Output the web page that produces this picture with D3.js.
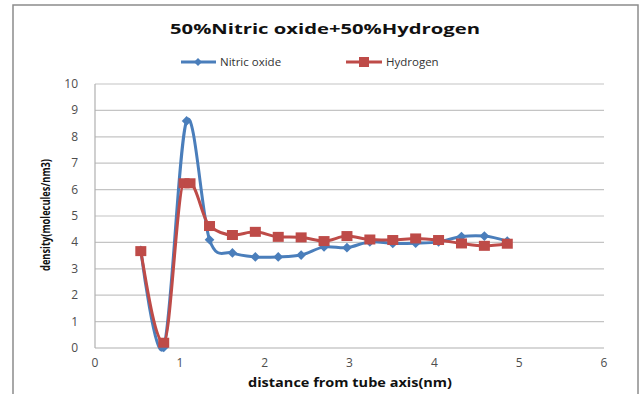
<!DOCTYPE html>
<html>
<head>
<meta charset="utf-8">
<script src="https://cdn.jsdelivr.net/npm/d3@7"></script>
<style>
  body { margin: 0; background: #fff; }
  #canvas svg { display: block; }
</style>
</head>
<body>
<div id="canvas"></div>
<script>
// values
var nitricX = [0.54, 0.81, 1.08, 1.35, 1.62, 1.89, 2.16, 2.43, 2.70, 2.97, 3.24, 3.51, 3.78, 4.05, 4.32, 4.59, 4.86];
var nitricY = [3.7, 0.02, 8.6, 4.1, 3.6, 3.45, 3.45, 3.52, 3.83, 3.8, 4.02, 3.96, 3.97, 4.02, 4.22, 4.24, 4.05];
var hydrogenX = [0.54, 0.81, 1.05, 1.12, 1.35, 1.62, 1.89, 2.16, 2.43, 2.70, 2.97, 3.24, 3.51, 3.78, 4.05, 4.32, 4.59, 4.86];
var hydrogenY = [3.67, 0.2, 6.24, 6.24, 4.62, 4.28, 4.4, 4.21, 4.19, 4.05, 4.24, 4.11, 4.09, 4.15, 4.09, 3.96, 3.87, 3.95];
var xTicks = [0, 1, 2, 3, 4, 5, 6];
var yTicks = [0, 1, 2, 3, 4, 5, 6, 7, 8, 9, 10];
var seriesNames = ['Nitric oxide', 'Hydrogen'];

var width = 643, height = 394;
var blue = '#4a7ebb', red = '#be4b48';

var svg = d3.select('#canvas').append('svg')
  .attr('width', width)
  .attr('height', height);

// outer chart frame
svg.append('rect')
  .attr('x', 13).attr('y', 5)
  .attr('width', 625).attr('height', 400)
  .attr('fill', '#fff')
  .attr('stroke', '#8c8c8c')
  .attr('stroke-width', 1.5);

var x = d3.scaleLinear().domain([0, 6]).range([95, 604]);
var y = d3.scaleLinear().domain([0, 10]).range([348, 84]);

// horizontal gridlines
svg.append('g').selectAll('line').data(yTicks.slice(1))
  .enter().append('line')
  .attr('x1', x(0)).attr('x2', x(6))
  .attr('y1', function (d) { return y(d); })
  .attr('y2', function (d) { return y(d); })
  .attr('stroke', '#c4c4c4')
  .attr('stroke-width', 1.2);

// axis lines
svg.append('line')
  .attr('x1', x(0)).attr('x2', x(0))
  .attr('y1', y(0)).attr('y2', y(10))
  .attr('stroke', '#b0b0b0').attr('stroke-width', 1.2);
svg.append('line')
  .attr('x1', x(0)).attr('x2', x(6))
  .attr('y1', y(0)).attr('y2', y(0))
  .attr('stroke', '#b0b0b0').attr('stroke-width', 1.2);

// tick labels
svg.append('g').selectAll('text').data(yTicks)
  .enter().append('text')
  .attr('x', 78)
  .attr('y', function (d) { return y(d) + 4; })
  .attr('text-anchor', 'end')
  .attr('font-family', 'Open Sans, sans-serif')
  .attr('font-size', 12)
  .attr('fill', '#4d4d4d')
  .text(function (d) { return d; });

svg.append('g').selectAll('text').data(xTicks)
  .enter().append('text')
  .attr('x', function (d) { return x(d); })
  .attr('y', 367)
  .attr('text-anchor', 'middle')
  .attr('font-family', 'Open Sans, sans-serif')
  .attr('font-size', 12)
  .attr('fill', '#4d4d4d')
  .text(function (d) { return d; });

// titles
svg.append('text')
  .attr('x', 325).attr('y', 34)
  .attr('text-anchor', 'middle')
  .attr('font-family', 'Open Sans, sans-serif')
  .attr('font-weight', 'bold')
  .attr('font-size', 15)
  .attr('fill', '#111')
  .attr('textLength', 310)
  .attr('lengthAdjust', 'spacingAndGlyphs')
  .text('50%Nitric oxide+50%Hydrogen');

svg.append('text')
  .attr('x', 350).attr('y', 387)
  .attr('text-anchor', 'middle')
  .attr('font-family', 'Open Sans, sans-serif')
  .attr('font-weight', 'bold')
  .attr('font-size', 11.5)
  .attr('fill', '#111')
  .attr('textLength', 204)
  .attr('lengthAdjust', 'spacingAndGlyphs')
  .text('distance from tube axis(nm)');

svg.append('text')
  .attr('transform', 'translate(50,215) rotate(-90)')
  .attr('text-anchor', 'middle')
  .attr('font-family', 'Open Sans, sans-serif')
  .attr('font-weight', 'bold')
  .attr('font-size', 13)
  .attr('fill', '#111')
  .attr('textLength', 112)
  .attr('lengthAdjust', 'spacingAndGlyphs')
  .text('density(molecules/nm3)');

// series lines (Excel style smoothed)
var nitricLine = d3.line()
  .x(function (d) { return x(d.x); })
  .y(function (d) { return y(d.y); })
  .curve(d3.curveCatmullRom.alpha(0));

var hydrogenLine = d3.line()
  .x(function (d) { return x(d.x); })
  .y(function (d) { return y(d.y); })
  .curve(d3.curveMonotoneX);

var nitric = nitricX.map(function (v, i) { return { x: v, y: nitricY[i] }; });
var hydrogen = hydrogenX.map(function (v, i) { return { x: v, y: hydrogenY[i] }; });

svg.append('path').datum(nitric)
  .attr('d', nitricLine)
  .attr('fill', 'none')
  .attr('stroke', blue)
  .attr('stroke-width', 3)
  .attr('stroke-linejoin', 'round');

svg.append('g').selectAll('path').data(nitric)
  .enter().append('path')
  .attr('d', d3.symbol().type(d3.symbolDiamond2).size(60))
  .attr('transform', function (d) { return 'translate(' + x(d.x) + ',' + y(d.y) + ')'; })
  .attr('fill', blue);

svg.append('path').datum(hydrogen)
  .attr('d', hydrogenLine)
  .attr('fill', 'none')
  .attr('stroke', red)
  .attr('stroke-width', 3)
  .attr('stroke-linejoin', 'round');

svg.append('g').selectAll('rect').data(hydrogen)
  .enter().append('rect')
  .attr('x', function (d) { return x(d.x) - 5.5; })
  .attr('y', function (d) { return y(d.y) - 5; })
  .attr('width', 11).attr('height', 10)
  .attr('fill', red);

// legend
var legend = svg.append('g').attr('font-family', 'Open Sans, sans-serif').attr('font-size', 11.5);
legend.append('line').attr('x1', 181).attr('x2', 216).attr('y1', 62).attr('y2', 62)
  .attr('stroke', blue).attr('stroke-width', 3);
legend.append('path').attr('d', d3.symbol().type(d3.symbolDiamond2).size(40))
  .attr('transform', 'translate(198,62)').attr('fill', blue);
legend.append('text').attr('x', 220).attr('y', 66).attr('fill', '#333').text(seriesNames[0]);

legend.append('line').attr('x1', 346).attr('x2', 382).attr('y1', 62).attr('y2', 62)
  .attr('stroke', red).attr('stroke-width', 3);
legend.append('rect').attr('x', 359).attr('y', 57).attr('width', 10).attr('height', 10)
  .attr('fill', red);
legend.append('text').attr('x', 386).attr('y', 66).attr('fill', '#333').text(seriesNames[1]);
</script>
</body>
</html>
